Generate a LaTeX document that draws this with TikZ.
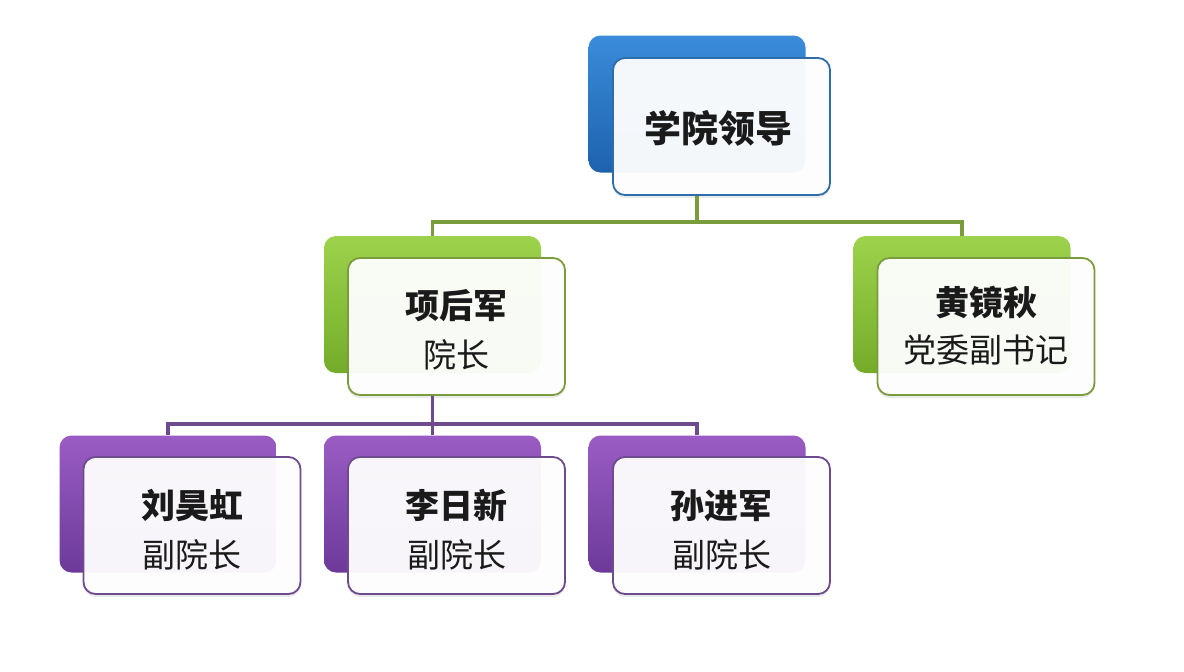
\documentclass[tikz,border=0pt]{standalone}
\usepackage{fontspec}
\setmainfont{Noto Sans CJK SC}
\usetikzlibrary{shadows,calc}
\definecolor{bluetop}{HTML}{3A8CDA}
\definecolor{bluebot}{HTML}{1E62AE}
\definecolor{blueline}{HTML}{2D6DAA}
\definecolor{greentop}{HTML}{9DD24C}
\definecolor{greenbot}{HTML}{74AC2A}
\definecolor{greenline}{HTML}{7A9C3C}
\definecolor{purptop}{HTML}{9A5CC4}
\definecolor{purpbot}{HTML}{6C3A9A}
\definecolor{purpline}{HTML}{6E4A8E}
\definecolor{txtcol}{HTML}{1A1A1A}
\begin{document}
\begin{tikzpicture}[x=1pt,y=-1pt,
  orgbox/.style={rounded corners=12pt, minimum width=217pt, minimum height=137pt, inner sep=0pt},
  backbox/.style={orgbox, draw=none},
  frontbox/.style={orgbox, fill=white, fill opacity=0.95, line width=1.8pt,
     drop shadow={opacity=0.16, shadow xshift=0pt, shadow yshift=-3pt}},
  bluebk/.style={backbox, top color=bluetop, bottom color=bluebot},
  greenbk/.style={backbox, top color=greentop, bottom color=greenbot},
  purpbk/.style={backbox, top color=purptop, bottom color=purpbot},
  titletext/.style={text=txtcol, font=\bfseries\fontsize{37}{40}\selectfont},
  nametext/.style={text=txtcol, font=\bfseries\fontsize{34}{38}\selectfont},
  roletext/.style={text=txtcol, font=\fontsize{33}{36}\selectfont},
  conn/.style={line width=3.4pt},
]
\useasboundingbox (0,0) rectangle (1184,672);
\fill[white] (0,0) rectangle (1184,672);

\coordinate (j1) at (697,222);
\coordinate (j2) at (432.5,424);

% top
\node[bluebk] (tb) at (697,104) {};
\node[frontbox, draw=blueline] (tf) at (721.5,126.5) {};
\node[titletext] (tt) at (718,128) {学院领导};

% green
\node[greenbk] (g1b) at (432.5,304.5) {};
\node[frontbox, draw=greenline] (g1f) at (456.5,326.5) {};
\node[nametext] (g1n) at ($(g1f)+(0,-21)$) {项后军};
\node[roletext] (g1r) at ($(g1f)+(0,28)$) {院长};

\node[greenbk] (g2b) at (962,304.5) {};
\node[frontbox, draw=greenline] (g2f) at (986,326.5) {};
\node[nametext] (g2n) at ($(g2f)+(0,-24)$) {黄镜秋};
\node[roletext] (g2r) at ($(g2f)+(0,23)$) {党委副书记};

% purple
\node[purpbk] (p1b) at (168,504) {};
\node[frontbox, draw=purpline] (p1f) at (192,525.5) {};
\node[nametext] (p1n) at ($(p1f)+(0,-20)$) {刘昊虹};
\node[roletext] (p1r) at ($(p1f)+(0,29)$) {副院长};

\node[purpbk] (p2b) at (432.5,504) {};
\node[frontbox, draw=purpline] (p2f) at (456.5,525.5) {};
\node[nametext] (p2n) at ($(p2f)+(0,-20)$) {李日新};
\node[roletext] (p2r) at ($(p2f)+(0,29)$) {副院长};

\node[purpbk] (p3b) at (697,504) {};
\node[frontbox, draw=purpline] (p3f) at (721.5,525.5) {};
\node[nametext] (p3n) at ($(p3f)+(0,-20)$) {孙进军};
\node[roletext] (p3r) at ($(p3f)+(0,29)$) {副院长};

% connectors
\draw[conn, greenline] (tb |- tf.south) -- (j1);
\draw[conn, greenline] (j1) -| (g1b.north);
\draw[conn, greenline] (j1) -| (g2b.north);
\draw[conn, purpline] (g1b |- g1f.south) -- (j2);
\draw[conn, purpline] (j2) -| (p1b.north);
\draw[conn, purpline] (j2) -- (p2b.north);
\draw[conn, purpline] (j2) -| (p3b.north);
\end{tikzpicture}
\end{document}
